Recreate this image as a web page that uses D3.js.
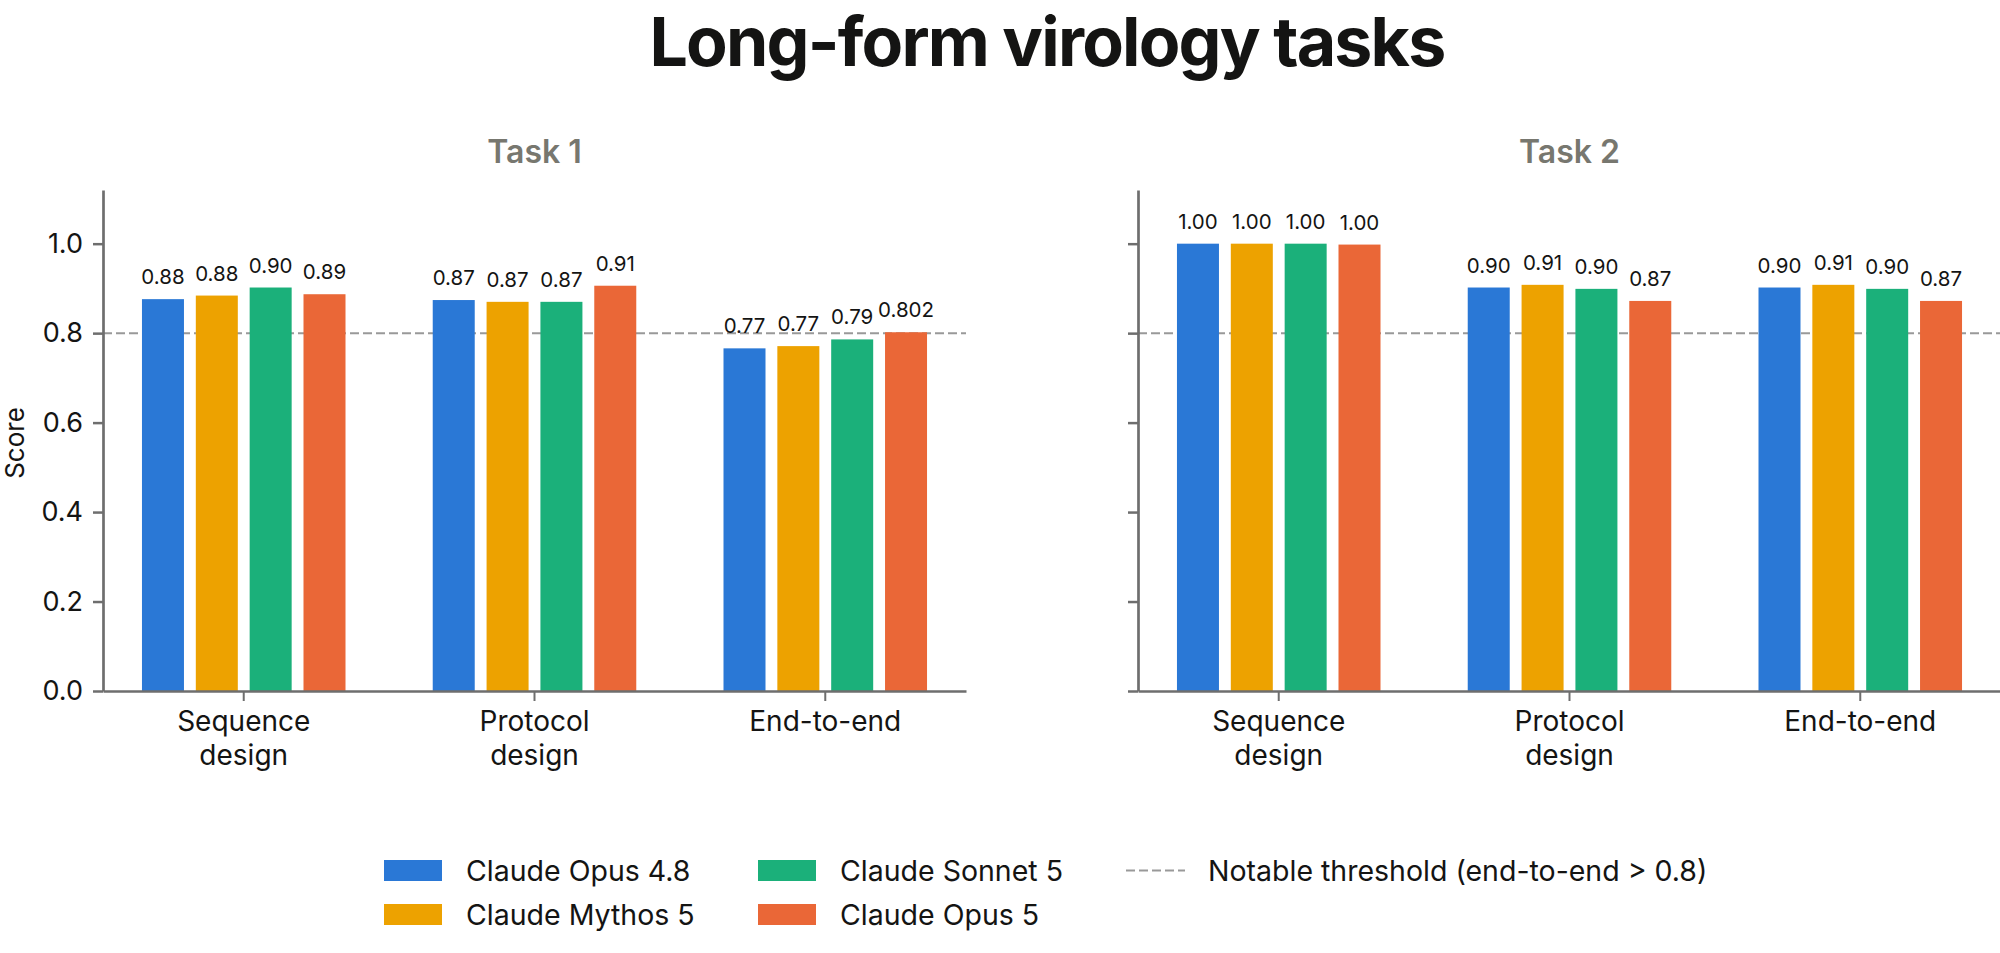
<!DOCTYPE html>
<html>
<head>
<meta charset="utf-8">
<script src="https://cdn.jsdelivr.net/npm/d3@7"></script>
<style>
  body { margin: 0; background: #fff; }
  svg text { font-family: Inter, "Noto Sans", sans-serif; fill: #141413; }
</style>
</head>
<body>
<svg id="chart"></svg>
<script>
// chart data
const categories = ['Sequence design', 'Protocol design', 'End-to-end'];
const categoryLines = [['Sequence', 'design'], ['Protocol', 'design'], ['End-to-end']];
const models = ['Claude Opus 4.8', 'Claude Mythos 5', 'Claude Sonnet 5', 'Claude Opus 5'];
const modelColors = ['#2a78d6', '#eda200', '#1bb07a', '#ea6737'];

// one row per category, one value per model
const task1Values = [
    [0.876, 0.884, 0.902, 0.887],
    [0.874, 0.870, 0.870, 0.906],
    [0.766, 0.771, 0.786, 0.802]
];
const task1Labels = [
    ['0.88', '0.88', '0.90', '0.89'],
    ['0.87', '0.87', '0.87', '0.91'],
    ['0.77', '0.77', '0.79', '0.802']
];
const task2Values = [
    [1.000, 1.000, 1.000, 0.998],
    [0.902, 0.908, 0.899, 0.872],
    [0.902, 0.908, 0.899, 0.872]
];
const task2Labels = [
    ['1.00', '1.00', '1.00', '1.00'],
    ['0.90', '0.91', '0.90', '0.87'],
    ['0.90', '0.91', '0.90', '0.87']
];
const yTicks = [0, 0.2, 0.4, 0.6, 0.8, 1.0];
const threshold = 0.8;
const thresholdLabel = 'Notable threshold (end-to-end > 0.8)';

const width = 2000, height = 953;
const axisGray = '#6e6e6e';

const svg = d3.select('#chart')
    .attr('width', width)
    .attr('height', height);

const y = d3.scaleLinear()
    .domain([0, 1.12])
    .range([691, 190]);

svg.append('text')
    .attr('x', 1047)
    .attr('y', 66)
    .attr('text-anchor', 'middle')
    .style('font-size', '68px')
    .style('font-weight', 700)
    .style('letter-spacing', '-1.8px')
    .text('Long-form virology tasks');

svg.append('text')
    .attr('transform', 'translate(14,443) rotate(-90)')
    .attr('text-anchor', 'middle')
    .attr('dominant-baseline', 'central')
    .style('font-size', '26px')
    .text('Score');

function drawPanel(x0, x1, title, values, labels, showYLabels) {
    const g = svg.append('g');

    const x = d3.scaleBand()
        .domain(categories)
        .range([x0, x1])
        .paddingInner(0.30)
        .paddingOuter(0.134);

    const xInner = d3.scaleBand()
        .domain(models)
        .range([0, x.bandwidth()])
        .paddingInner(0.22);

    g.append('text')
        .attr('x', (x0 + x1) / 2)
        .attr('y', 163)
        .attr('text-anchor', 'middle')
        .style('font-size', '32px')
        .style('font-weight', 600)
        .style('fill', '#77776f')
        .text(title);

    // threshold line behind the bars
    g.append('line')
        .attr('x1', x0)
        .attr('x2', x1)
        .attr('y1', y(threshold))
        .attr('y2', y(threshold))
        .attr('stroke', '#999')
        .attr('stroke-width', 2)
        .attr('stroke-dasharray', '9,4');

    categories.forEach((cat, ci) => {
        const grp = g.append('g')
            .attr('transform', `translate(${x(cat)},0)`);

        grp.selectAll('rect')
            .data(models)
            .enter()
            .append('rect')
            .attr('x', d => xInner(d))
            .attr('y', (d, i) => y(values[ci][i]))
            .attr('width', xInner.bandwidth())
            .attr('height', (d, i) => y(0) - y(values[ci][i]))
            .attr('fill', (d, i) => modelColors[i]);

        grp.selectAll('text.val')
            .data(models)
            .enter()
            .append('text')
            .attr('class', 'val')
            .attr('x', d => xInner(d) + xInner.bandwidth() / 2)
            .attr('y', (d, i) => y(values[ci][i]) - 15)
            .attr('text-anchor', 'middle')
            .style('font-size', '20.5px')
            .text((d, i) => labels[ci][i]);
    });

    const yAxis = d3.axisLeft(y)
        .tickValues(yTicks)
        .tickSize(10)
        .tickSizeOuter(0)
        .tickPadding(10)
        .tickFormat(showYLabels ? d3.format('.1f') : () => '');

    const ya = g.append('g')
        .attr('transform', `translate(${x0},0)`)
        .call(yAxis);
    ya.select('.domain').attr('stroke', axisGray).attr('stroke-width', 2.7);
    ya.selectAll('.tick line').attr('stroke', axisGray).attr('stroke-width', 2.5);
    ya.selectAll('.tick text')
        .style('font-size', '27px')
        .style('font-family', 'Inter, sans-serif')
        .attr('fill', '#141413');

    const xAxis = d3.axisBottom(x)
        .tickSize(10)
        .tickSizeOuter(0)
        .tickFormat('');

    const xa = g.append('g')
        .attr('transform', `translate(0,${y(0)})`)
        .call(xAxis);
    xa.select('.domain').attr('stroke', axisGray).attr('stroke-width', 2.7);
    xa.selectAll('.tick line').attr('stroke', axisGray).attr('stroke-width', 2);

    xa.selectAll('.tick').each(function (d, i) {
        const t = d3.select(this).append('text')
            .attr('text-anchor', 'middle')
            .attr('y', 40)
            .style('font-size', '28px')
            .style('font-family', 'Inter, sans-serif')
            .attr('fill', '#141413');
        categoryLines[i].forEach((line, li) => {
            t.append('tspan')
                .attr('x', 0)
                .attr('dy', li === 0 ? 0 : 34)
                .text(line);
        });
    });
}

drawPanel(103, 966, 'Task 1', task1Values, task1Labels, true);
drawPanel(1138, 2001, 'Task 2', task2Values, task2Labels, false);

// legend: two columns of model swatches, then the threshold entry
const legendCols = [384, 758];
const legendRows = [870.5, 914.5];
const legend = svg.append('g');

models.forEach((m, i) => {
    const cx = legendCols[Math.floor(i / 2)];
    const cy = legendRows[i % 2];
    legend.append('rect')
        .attr('x', cx)
        .attr('y', cy - 10.5)
        .attr('width', 58)
        .attr('height', 21)
        .attr('fill', modelColors[i]);
    legend.append('text')
        .attr('x', cx + 82)
        .attr('y', cy)
        .attr('dominant-baseline', 'central')
        .style('font-size', '28.5px')
        .text(m);
});

legend.append('line')
    .attr('x1', 1126)
    .attr('x2', 1185)
    .attr('y1', legendRows[0])
    .attr('y2', legendRows[0])
    .attr('stroke', '#999')
    .attr('stroke-width', 2)
    .attr('stroke-dasharray', '9,4');
legend.append('text')
    .attr('x', 1208)
    .attr('y', legendRows[0])
    .attr('dominant-baseline', 'central')
    .style('font-size', '28.5px')
    .text(thresholdLabel);
</script>
</body>
</html>
